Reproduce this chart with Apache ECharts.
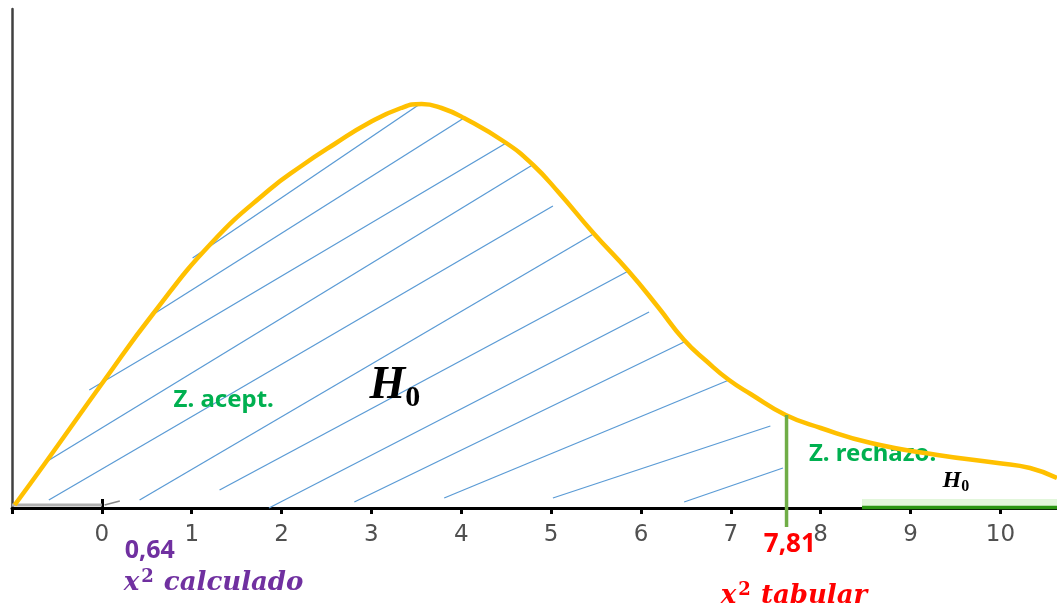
<!DOCTYPE html>
<html>
<head>
<meta charset="utf-8">
<script src="https://cdn.jsdelivr.net/npm/echarts@6/dist/echarts.min.js"></script>
<style>
  html, body { margin: 0; padding: 0; background: #fff; }
  #chart { width: 1057px; height: 607px; }
</style>
</head>
<body>
<div id="chart"></div>
<script>
// chi-square curve (x in axis units, y in pixels above the axis)
const curveX = [-0.97, -0.63, 0.03, 0.56, 1.22, 1.86, 2.22, 2.59, 2.97, 3.33, 3.56, 3.78, 4.03, 4.50, 4.80, 5.08, 5.47, 5.86, 6.19, 6.48, 6.74, 6.98, 7.22, 7.61, 8.00, 8.56, 9.30, 9.97, 10.33, 10.63]
const curveY = [3, 45, 128, 193, 265, 318, 342, 364, 385, 400, 404, 400, 390, 365, 343, 316, 275, 237, 201, 168, 146, 128, 114, 93, 80, 65, 53, 45, 40, 30]

// hatch lines under the curve: [x1, y1, x2, y2]
const hatch = [
  [1.01, 250, 3.54, 404],
  [0.56, 193, 4.03, 390],
  [-0.14, 118, 4.50, 365],
  [-0.64, 45, 4.81, 344],
  [-0.59, 8, 5.02, 302],
  [0.42, 8, 5.47, 274],
  [1.31, 18, 5.86, 237],
  [1.86, 0, 6.09, 196],
  [2.81, 6, 6.48, 166],
  [3.81, 10, 6.98, 128],
  [5.02, 10, 7.44, 82],
  [6.48, 6, 7.58, 40]
]

// critical value line (7,81) and rejection band
const critLine = [[7.62, 93], [7.62, -19]]
const rejectBand = [[8.46, 0], [10.63, 0]]
const originBar = [[-1, 3], [0, 3]]

const tickMin = -1
const tickMax = 10.63

// text annotations
const notes = [
  {name: 'acept', text: 'Z. acept.', pos: [1.356, 108]},
  {name: 'rech', text: 'Z. rechazo.', pos: [8.578, 54]},
  {name: 'h0big', text: '{h|H}{s|0}', pos: [2.978, 122]},
  {name: 'h0small', text: '{h|H}{s|0}', pos: [9.356, 27]},
  {name: 'calc', text: '0,64', pos: [0.533, -43]},
  {name: 'calcLbl', text: '{v|x}{p|2}{v| calculado}', pos: [0.244, -75]},
  {name: 'tab', text: '7,81', pos: [7.656, -37]},
  {name: 'tabLbl', text: '{v|x}{p|2}{v| tabular}', pos: [6.889, -88]}
]

const chart = echarts.init(document.getElementById('chart'))

const noBorder = {textBorderWidth: 0, textBorderColor: 'transparent', textShadowBlur: 0}
const greenTxt = Object.assign({color: '#00B050', fontFamily: 'Noto Sans', fontWeight: 'bold', fontSize: 24}, noBorder)
const mathRich = (color) => ({
  v: {color: color, fontFamily: 'DejaVu Serif', fontStyle: 'italic', fontWeight: 'bold', fontSize: 26, lineHeight: 30},
  p: {color: color, fontFamily: 'DejaVu Serif', fontWeight: 'bold', fontSize: 18, verticalAlign: 'top', lineHeight: 30, padding: [0, 1, 0, 2]}
})
const hRich = (big, small, pad) => ({
  h: {color: '#000', fontFamily: 'Liberation Serif', fontStyle: 'italic', fontWeight: 'bold', fontSize: big, lineHeight: big, verticalAlign: 'top'},
  s: {color: '#000', fontFamily: 'Liberation Serif', fontWeight: 'bold', fontSize: small, lineHeight: small, verticalAlign: 'top', padding: [pad, 0, 0, 0]}
})

const noteStyle = {
  acept: greenTxt,
  rech: greenTxt,
  h0big: Object.assign({align: 'left', rich: hRich(46, 30, 20)}, noBorder),
  h0small: Object.assign({align: 'left', rich: hRich(24, 16, 10)}, noBorder),
  calc: Object.assign({color: '#7030A0', fontFamily: 'Noto Sans', fontWeight: 'bold', fontSize: 25}, noBorder),
  calcLbl: Object.assign({align: 'left', rich: mathRich('#7030A0')}, noBorder),
  tab: Object.assign({color: '#FF0000', fontFamily: 'Noto Sans', fontWeight: 'bold', fontSize: 26}, noBorder),
  tabLbl: Object.assign({align: 'left', rich: mathRich('#FF0000')}, noBorder)
}

const option = {
  animation: false,
  grid: {left: 12, right: 0, top: 9, bottom: 99},
  xAxis: {
    type: 'value',
    min: tickMin,
    max: tickMax,
    interval: 1,
    splitLine: {show: false},
    axisLine: {lineStyle: {color: '#000', width: 3}},
    axisTick: {length: 6, lineStyle: {color: '#000', width: 3}},
    axisLabel: {
      margin: 16,
      color: '#505050',
      fontFamily: 'DejaVu Sans',
      fontSize: 23,
      showMaxLabel: false,
      formatter: v => (Number.isInteger(v) && v >= 0 && v <= 10) ? String(v) : ''
    }
  },
  yAxis: {
    type: 'value',
    min: 0,
    max: 499,
    splitLine: {show: false},
    axisTick: {show: false},
    axisLabel: {show: false},
    axisLine: {show: true, onZero: false, lineStyle: {color: '#404040', width: 2.5}}
  },
  series: [
    {
      type: 'line',
      data: originBar,
      symbol: 'none',
      clip: false,
      lineStyle: {color: '#b0b0b0', width: 3}
    },
    {
      type: 'lines',
      coordinateSystem: 'cartesian2d',
      clip: false,
      lineStyle: {color: '#5B9BD5', width: 1.3, opacity: 1},
      data: hatch.map(h => ({coords: [[h[0], h[1]], [h[2], h[3]]]}))
    },
    {
      type: 'lines',
      coordinateSystem: 'cartesian2d',
      clip: false,
      lineStyle: {color: '#000', width: 3, opacity: 1},
      data: [{coords: [[0, 0], [0, 9]]}]
    },
    {
      type: 'lines',
      coordinateSystem: 'cartesian2d',
      clip: false,
      lineStyle: {color: '#888', width: 1.5, opacity: 1},
      data: [{coords: [[0.03, 3], [0.2, 7]]}]
    },
    {
      type: 'line',
      data: curveX.map((x, i) => [x, curveY[i]]),
      smooth: 0.5,
      smoothMonotone: 'none',
      symbol: 'none',
      clip: false,
      lineStyle: {color: '#FFC000', width: 4.5}
    },
    {
      type: 'line',
      data: rejectBand.map(p => [p[0], 5.5]),
      symbol: 'none',
      clip: false,
      lineStyle: {color: '#e2f6db', width: 7}
    },
    {
      type: 'line',
      data: rejectBand.map(p => [p[0], p[1] + 0.5]),
      symbol: 'none',
      clip: false,
      lineStyle: {color: '#2b9612', width: 3.5}
    },
    {
      type: 'lines',
      coordinateSystem: 'cartesian2d',
      clip: false,
      lineStyle: {color: '#6cd24a', width: 9, opacity: 1},
      data: [{coords: [[rejectBand[0][0], 4.5], [rejectBand[0][0] + 0.07, 4.5]]}]
    },
    {
      type: 'line',
      data: critLine,
      symbol: 'none',
      clip: false,
      lineStyle: {color: '#70AD47', width: 3.5}
    },
    {
      type: 'scatter',
      symbolSize: 0,
      clip: false,
      silent: true,
      itemStyle: {opacity: 1},
      data: notes.map(n => ({
        name: n.name,
        value: n.pos,
        label: Object.assign({show: true, position: 'inside', formatter: n.text}, noteStyle[n.name])
      }))
    }
  ]
}

chart.setOption(option)
</script>
</body>
</html>
